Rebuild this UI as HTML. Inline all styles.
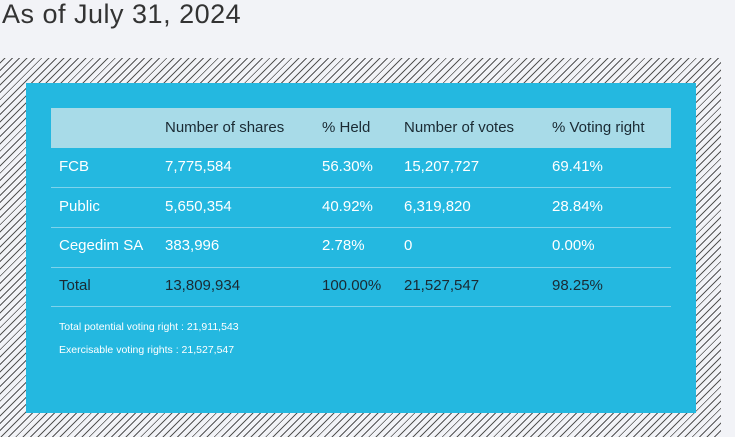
<!DOCTYPE html>
<html><head><style>
body{margin:0;width:735px;height:437px;background:#f2f3f7;overflow:hidden;position:relative;font-family:"Liberation Sans",sans-serif}
h1{position:absolute;left:2px;top:-1px;margin:0;font-weight:normal;font-size:27px;color:#333;letter-spacing:0.5px}
.hatch{position:absolute;left:0;top:58px;width:721px;height:379px;background:repeating-linear-gradient(-45deg,#f2f3f7 0 4.2px,#555 4.2px 5.2px)}
.box{position:absolute;left:26px;top:83px;width:670px;height:330px;background:#24b8e0}
.hd{position:absolute;left:25px;top:25px;width:620px;height:40px;background:#a8dbe8}
.t{position:absolute;font-size:15px;color:#fff;white-space:nowrap}
.hd .t{color:#1a2a33;top:11px}
.line{position:absolute;left:25px;width:620px;height:1px;background:#7fd3ec}
.n{position:absolute;left:33px;font-size:10.5px;color:#fff}
</style></head><body>
<h1>As of July 31, 2024</h1>
<div class="hatch"></div>
<div class="box">
<div class="hd">
<span class="t" style="left:114px">Number of shares</span>
<span class="t" style="left:271px">% Held</span>
<span class="t" style="left:353px">Number of votes</span>
<span class="t" style="left:501px">% Voting right</span>
</div>
<div style="position:absolute;left:25px;top:0">
<span class="t" style="left:8px;top:75px">FCB</span><span class="t" style="left:114px;top:75px">7,775,584</span><span class="t" style="left:271px;top:75px">56.30%</span><span class="t" style="left:353px;top:75px">15,207,727</span><span class="t" style="left:501px;top:75px">69.41%</span>
<span class="t" style="left:8px;top:115px">Public</span><span class="t" style="left:114px;top:115px">5,650,354</span><span class="t" style="left:271px;top:115px">40.92%</span><span class="t" style="left:353px;top:115px">6,319,820</span><span class="t" style="left:501px;top:115px">28.84%</span>
<span class="t" style="left:8px;top:154px">Cegedim SA</span><span class="t" style="left:114px;top:154px">383,996</span><span class="t" style="left:271px;top:154px">2.78%</span><span class="t" style="left:353px;top:154px">0</span><span class="t" style="left:501px;top:154px">0.00%</span>
<span class="t" style="left:8px;top:194px;color:#1a2a33">Total</span><span class="t" style="left:114px;top:194px;color:#1a2a33">13,809,934</span><span class="t" style="left:271px;top:194px;color:#1a2a33">100.00%</span><span class="t" style="left:353px;top:194px;color:#1a2a33">21,527,547</span><span class="t" style="left:501px;top:194px;color:#1a2a33">98.25%</span>
</div>
<div class="line" style="top:104px"></div>
<div class="line" style="top:144px"></div>
<div class="line" style="top:184px"></div>
<div class="line" style="top:223px"></div>
<div class="n" style="top:238px">Total potential voting right : 21,911,543</div>
<div class="n" style="top:261px">Exercisable voting rights : 21,527,547</div>
</div>
</body></html>
